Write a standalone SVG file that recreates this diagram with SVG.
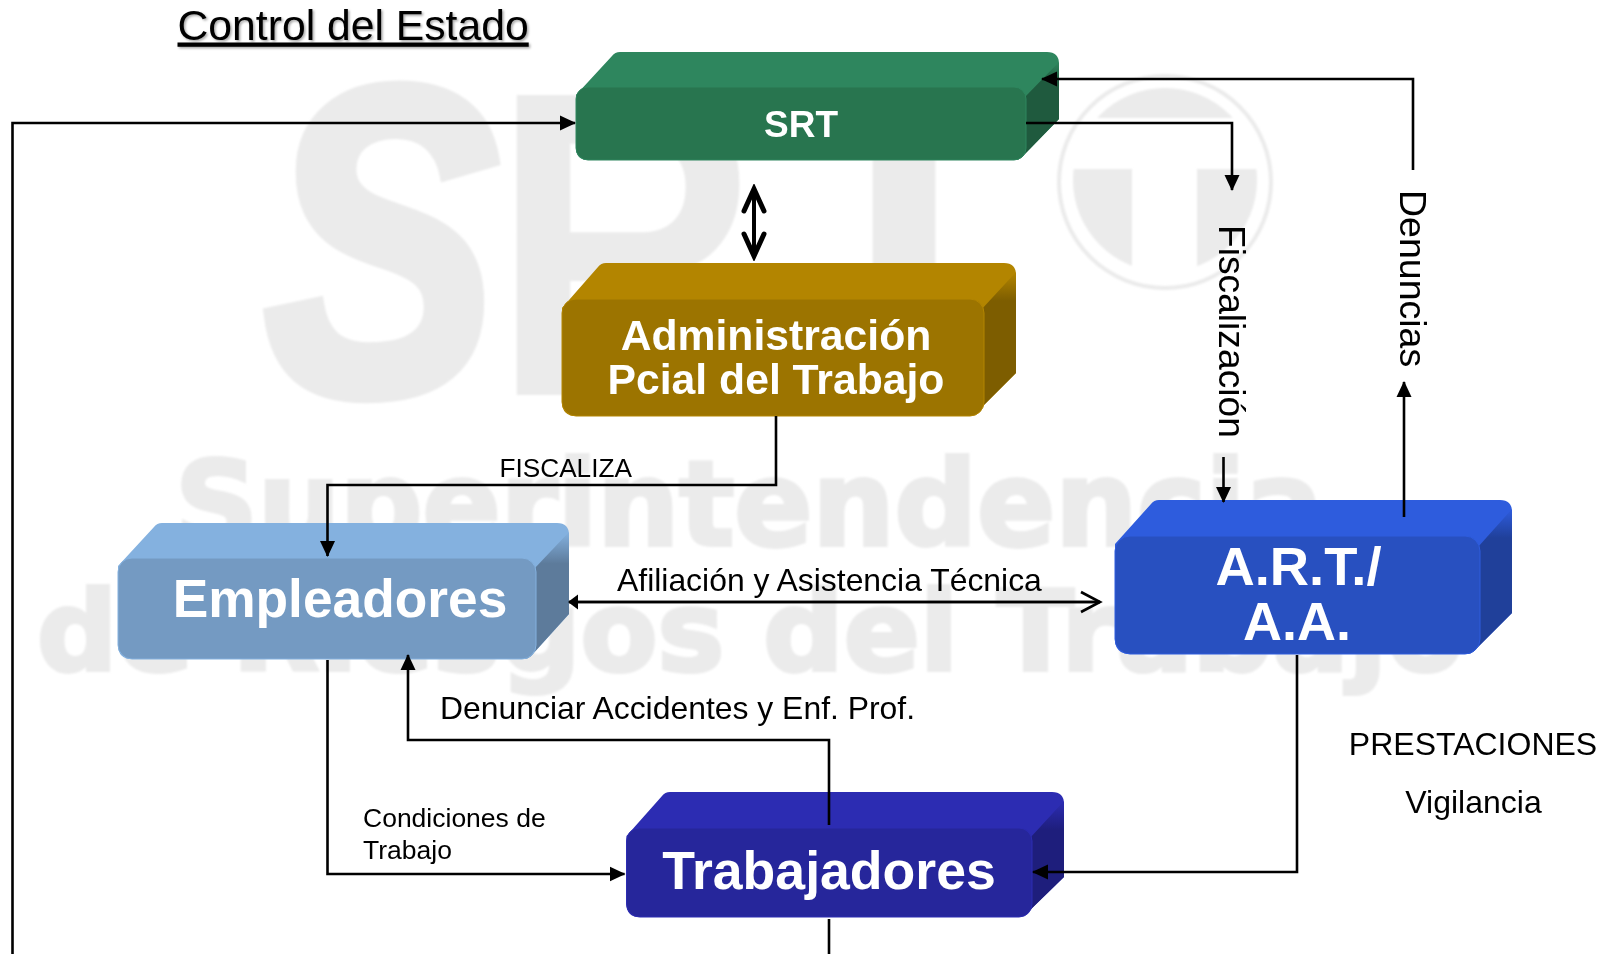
<svg xmlns="http://www.w3.org/2000/svg" width="1612" height="954" viewBox="0 0 1612 954">
<style>
text{font-family:"Liberation Sans",Arial,sans-serif}
.wm{font-family:"DejaVu Sans",sans-serif;font-weight:700;fill:#ebebeb;stroke:#ebebeb;stroke-width:4}
.wl{font-family:"Liberation Sans",Arial,sans-serif;font-weight:700;fill:#ebebeb}
.n{font-weight:700;fill:#fff;text-anchor:middle}
.l{fill:#000}
.c{fill:none;stroke:#000;stroke-width:2.6;stroke-linejoin:miter}
.srt .s{fill:#2e865e}.srt .d{fill:url(#gs)}.srt .f{fill:#28754f;stroke:#2e865e}
.adm .s{fill:#b38500}.adm .d{fill:url(#ga)}.adm .f{fill:#9c7400;stroke:#b38500}
.emp .s{fill:#84b1df}.emp .d{fill:url(#ge)}.emp .f{fill:#749ac2;stroke:#84b1df}
.tra .s{fill:#2c2cb2}.tra .d{fill:url(#gt)}.tra .f{fill:#26269b;stroke:#2c2cb2}
.art .s{fill:#2e5cdd}.art .d{fill:url(#gr)}.art .f{fill:#2850c0;stroke:#2e5cdd}
</style>
<defs>
<linearGradient id="gs" x1="0" y1="0" x2="0" y2="1"><stop offset="0" stop-color="#2e865e"/><stop offset="0.2" stop-color="#1f5a3e"/></linearGradient>
<linearGradient id="ga" x1="0" y1="0" x2="0" y2="1"><stop offset="0" stop-color="#b38500"/><stop offset="0.2" stop-color="#7d5d00"/></linearGradient>
<linearGradient id="ge" x1="0" y1="0" x2="0" y2="1"><stop offset="0" stop-color="#84b1df"/><stop offset="0.25" stop-color="#5d7b9b"/></linearGradient>
<linearGradient id="gt" x1="0" y1="0" x2="0" y2="1"><stop offset="0" stop-color="#2c2cb2"/><stop offset="0.25" stop-color="#1e1e7c"/></linearGradient>
<linearGradient id="gr" x1="0" y1="0" x2="0" y2="1"><stop offset="0" stop-color="#2e5cdd"/><stop offset="0.2" stop-color="#20409a"/></linearGradient>
<marker id="a" markerUnits="userSpaceOnUse" markerWidth="18" markerHeight="16" refX="15" refY="8" orient="auto"><path d="M0,0.500L16,8L0,15.500Z" fill="#000"/></marker>
<marker id="s" markerUnits="userSpaceOnUse" markerWidth="12" markerHeight="16" refX="9" refY="8" orient="auto"><path d="M0,0.500L10,8L0,15.500Z" fill="#000"/></marker>
<marker id="o" markerUnits="userSpaceOnUse" markerWidth="24" markerHeight="26" refX="20" refY="12" orient="auto"><path d="M1,2L20,12L1,22" fill="none" stroke="#000" stroke-width="2.600"/></marker>
<marker id="t" markerUnits="userSpaceOnUse" markerWidth="30" markerHeight="30" refX="25" refY="14" orient="auto"><path d="M3,4L25,14L3,24" fill="none" stroke="#000" stroke-width="5" stroke-linecap="round" stroke-linejoin="miter"/></marker>
<clipPath id="disc"><circle cx="1165" cy="180" r="92"/></clipPath>
<filter id="blur" x="-5%" y="-5%" width="110%" height="110%"><feGaussianBlur stdDeviation="0.9"/></filter>
<filter id="shadow" x="-5%" y="-20%" width="110%" height="140%"><feDropShadow dx="1.500" dy="1.500" stdDeviation="0.800" flood-color="#000" flood-opacity="0.350"/></filter>
</defs>
<rect width="1612" height="954" fill="#fff"/>
<g id="watermark" filter="url(#blur)">
<text class="wl" font-size="436" font-style="italic" stroke="#ebebeb" stroke-width="14" transform="translate(265,392) scale(0.8,1)">S</text>
<text class="wl" font-size="436" transform="translate(492,395) scale(0.85,1)">R</text>
<text class="wl" font-size="436" text-anchor="middle" x="904" y="395">T</text>
<circle cx="1165" cy="182" r="106" fill="none" stroke="#ebebeb" stroke-width="4"/>
<g clip-path="url(#disc)" fill="#ebebeb"><rect x="1065" y="80" width="200" height="38"/><rect x="1065" y="169" width="67" height="110"/><rect x="1197" y="169" width="68" height="110"/></g>
<text class="wm" font-size="118" x="175" y="545" textLength="1148" lengthAdjust="spacingAndGlyphs">Superintendencia</text>
<text class="wm" font-size="110" x="37" y="670" textLength="1427" lengthAdjust="spacingAndGlyphs">de Riesgos del Trabajo</text>
</g>
<g id="title"><text x="177.500" y="39.500" font-size="42.700" text-decoration="underline" filter="url(#shadow)">Control del Estado</text></g>
<g id="node-srt" class="srt">
<path class="s" d="M576,99V95L612,56Q615,52 620,52H1047Q1059,52 1059,64V119L1022,157Q1019,160 1014,160H588Q576,160 576,148Z"/>
<path class="d" d="M1024,98L1059,62V119L1022,157Q1019,160 1014,160V150Z"/>
<rect class="f" x="576" y="87" width="450" height="73" rx="12"/>
<text class="n" x="801" y="137" font-size="37">SRT</text>
</g>
<g id="node-adm" class="adm">
<path class="s" d="M562,312V308L598,267Q601,263 606,263H1004Q1016,263 1016,275V373L976,413Q973,416 968,416H576Q562,416 562,402Z"/>
<path class="d" d="M981,310L1016,272V373L976,413Q973,416 968,416V406Z"/>
<rect class="f" x="562" y="299" width="422" height="117" rx="14"/>
<text class="n" x="776" y="350" font-size="42.700">Administración</text>
<text class="n" x="776" y="394" font-size="42.700">Pcial del Trabajo</text>
</g>
<g id="node-emp" class="emp">
<path class="s" d="M118,570V566L154,527Q157,523 162,523H557Q569,523 569,535V614L531,656Q528,659 523,659H132Q118,659 118,645Z"/>
<path class="d" d="M534,569L569,532V614L531,656Q528,659 523,659V649Z"/>
<rect class="f" x="118" y="558" width="418" height="101" rx="14"/>
<text class="n" x="340" y="617" font-size="53.300">Empleadores</text>
</g>
<g id="node-tra" class="tra">
<path class="s" d="M626.500,840V836L662,796Q665,792 670,792H1052Q1064,792 1064,804V877L1026,914Q1023,917 1018,917H639.500Q626.500,917 626.500,904Z"/>
<path class="d" d="M1030,838L1064,801V877L1026,914Q1023,917 1018,917V907Z"/>
<rect class="f" x="626.500" y="828" width="405.500" height="89" rx="13"/>
<text class="n" x="829" y="889" font-size="53.600">Trabajadores</text>
</g>
<g id="node-art" class="art">
<path class="s" d="M1115,548V544L1151,504Q1154,500 1159,500H1500Q1512,500 1512,512V613L1474,651Q1471,654 1466,654H1130Q1115,654 1115,639Z"/>
<path class="d" d="M1478,547L1512,509V613L1474,651Q1471,654 1466,654V644Z"/>
<rect class="f" x="1115" y="536" width="365" height="118" rx="15"/>
<text class="n" x="1298.500" y="585" font-size="54.400">A.R.T./</text>
<text class="n" x="1297" y="640" font-size="54">A.A.</text>
</g>
<g id="connectors">
<path class="c" d="M12.500,954V123H575" marker-end="url(#a)"/>
<path class="c" style="stroke-width:3.800" d="M754,256V189" marker-end="url(#t)"/>
<path class="c" style="stroke-width:3.800" d="M754,189V256" marker-end="url(#t)"/>
<path class="c" d="M776,416V485H327.500V556" marker-end="url(#a)"/>
<path class="c" d="M1026,123H1232V190" marker-end="url(#a)"/>
<path class="c" d="M1413,170V79H1042" marker-end="url(#a)"/>
<path class="c" d="M1223.500,457V502" marker-end="url(#a)"/>
<path class="c" d="M1404,517V382" marker-end="url(#a)"/>
<path class="c" d="M1100,602H569" marker-end="url(#s)"/>
<path class="c" d="M569,602H1100" marker-end="url(#o)"/>
<path class="c" d="M829,825V740H408V655" marker-end="url(#a)"/>
<path class="c" d="M327.500,660V874H624.500" marker-end="url(#a)"/>
<path class="c" d="M829,919V954"/>
<path class="c" d="M1297,655V872H1033" marker-end="url(#a)"/>
</g>
<g id="labels">
<text class="l" x="499.500" y="477" font-size="26.200">FISCALIZA</text>
<text class="l" x="617" y="591" font-size="31.900">Afiliación y Asistencia Técnica</text>
<text class="l" x="440" y="719" font-size="31.900">Denunciar Accidentes y Enf. Prof.</text>
<text class="l" x="363" y="827" font-size="26.500">Condiciones de</text>
<text class="l" x="363" y="859" font-size="26.500">Trabajo</text>
<text class="l" x="1473" y="755" font-size="32" text-anchor="middle">PRESTACIONES</text>
<text class="l" x="1473.500" y="813" font-size="32" text-anchor="middle">Vigilancia</text>
<text class="l" font-size="37.200" transform="translate(1219,225) rotate(90)">Fiscalización</text>
<text class="l" font-size="37.500" transform="translate(1400,190) rotate(90)">Denuncias</text>
</g>
</svg>
